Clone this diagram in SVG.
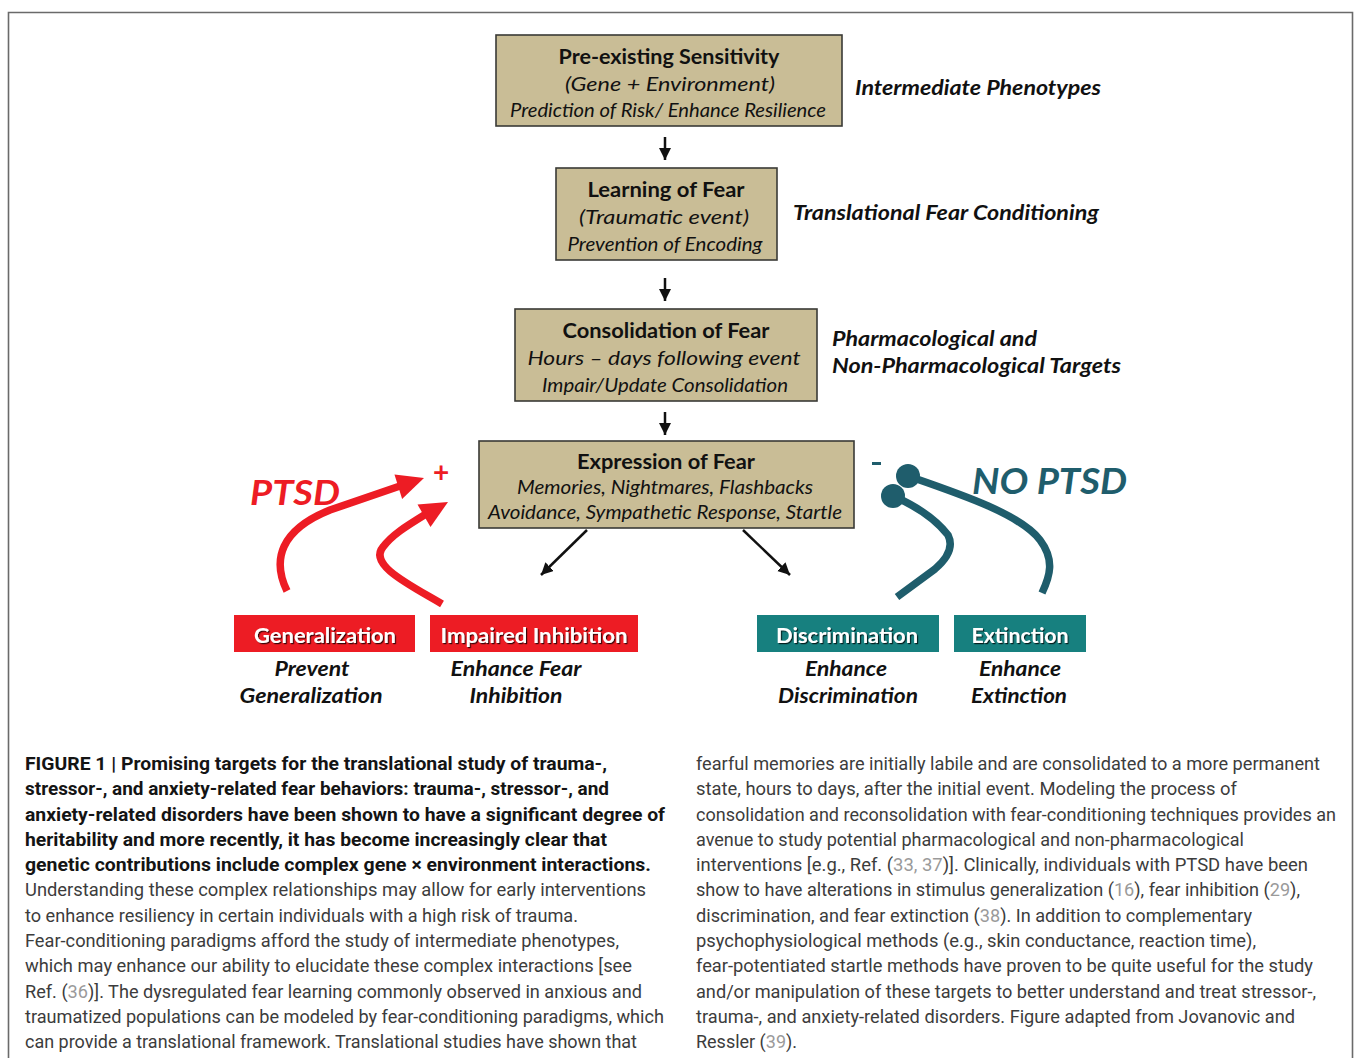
<svg xmlns="http://www.w3.org/2000/svg" width="1354" height="1058" viewBox="0 0 1354 1058">
<style>
.box{fill:#c9bd96;stroke:#3a3a36;stroke-width:1.6}
.t{font-family:Lato,"Open Sans","Liberation Sans",sans-serif;fill:#111;text-anchor:middle}
.b{font-weight:700;font-size:21px}
.i{font-style:italic;font-size:19px}
.lab{font-family:Lato,"Open Sans","Liberation Sans",sans-serif;font-weight:700;font-style:italic;font-size:21px;fill:#111}
.tag{font-family:Lato,"Open Sans","Liberation Sans",sans-serif;font-weight:700;font-size:21px;fill:#fff;text-anchor:middle;filter:url(#sh)}
.sub{font-family:Lato,"Open Sans","Liberation Sans",sans-serif;font-weight:700;font-style:italic;font-size:21px;fill:#111;text-anchor:middle}
.red{fill:#ed1c24}
.teal{fill:#17807f}
.blk{stroke:#111;stroke-width:2.5;fill:none}
.rc{stroke:#ed1c24;stroke-width:7.5;fill:none;stroke-linecap:butt}
.tc{stroke:#1f5d6c;stroke-width:7.5;fill:none}
.cap{font-family:"Liberation Sans Narrow",Roboto,"Liberation Sans",sans-serif;font-size:18px;fill:#3c3c3c}
.capb{font-weight:700;fill:#141414}
.ref{fill:#9a9a9a}
</style>
<defs>
<marker id="ah" markerWidth="14" markerHeight="14" refX="12" refY="6" orient="auto" markerUnits="userSpaceOnUse">
<path d="M0,0 L12,6 L0,12 z" fill="#111"/>
</marker>
<filter id="sh" x="-10%" y="-20%" width="130%" height="150%">
<feDropShadow dx="1.2" dy="1.2" stdDeviation="0.6" flood-color="#000" flood-opacity="0.75"/>
</filter>
</defs>
<rect x="0" y="0" width="1354" height="1058" fill="#fff"/>
<path d="M8.5,1058 L8.5,12.5 L1352.5,12.5 L1352.5,1058" fill="none" stroke="#6a6a6a" stroke-width="1.6"/>

<g id="connectors">
<line class="blk" x1="665" y1="137" x2="665" y2="160" marker-end="url(#ah)"/>
<line class="blk" x1="665" y1="278" x2="665" y2="301" marker-end="url(#ah)"/>
<line class="blk" x1="665" y1="412" x2="665" y2="435" marker-end="url(#ah)"/>
<line class="blk" x1="587" y1="530" x2="541" y2="575" marker-end="url(#ah)"/>
<line class="blk" x1="743" y1="530" x2="790" y2="575" marker-end="url(#ah)"/>
<path class="rc" d="M287,591 C272,560 280,530 330,510 L400,486"/>
<polygon class="red" points="424,478 402.1,499 394.5,474.5"/>
<path class="rc" d="M442,604 C410,585 368,565 383,547 C392,535 405,527 426,514"/>
<polygon class="red" points="448,502 430.5,527 417.5,504.5"/>
<path class="tc" d="M893,496 Q930,512 948,535 Q956,551 935,569 L897,597"/>
<circle cx="893" cy="496" r="12" fill="#1f5d6c"/>
<path class="tc" d="M908,476 C960,494 1020,514 1040,540 C1055,560 1050,576 1042,593"/>
<circle cx="908" cy="476" r="12" fill="#1f5d6c"/>
</g>

<g id="node-preexisting">
<rect class="box" x="496" y="35" width="346" height="91"/>
<text class="t b" x="669" y="64" textLength="221" lengthAdjust="spacingAndGlyphs">Pre-existing Sensitivity</text>
<text class="t i" x="670" y="91" font-size="21" textLength="210" lengthAdjust="spacingAndGlyphs">(Gene + Environment)</text>
<text class="t i" x="668" y="117" font-size="18" textLength="316" lengthAdjust="spacingAndGlyphs">Prediction of Risk/ Enhance Resilience</text>
</g>
<g id="label-intermediate">
<text class="lab" x="855" y="95" textLength="246" lengthAdjust="spacingAndGlyphs">Intermediate Phenotypes</text>
</g>

<g id="node-learning">
<rect class="box" x="556" y="168" width="221" height="92"/>
<text class="t b" x="666" y="197" textLength="157" lengthAdjust="spacingAndGlyphs">Learning of Fear</text>
<text class="t i" x="664" y="224" font-size="21" textLength="170" lengthAdjust="spacingAndGlyphs">(Traumatic event)</text>
<text class="t i" x="665" y="251" font-size="18" textLength="195" lengthAdjust="spacingAndGlyphs">Prevention of Encoding</text>
</g>
<g id="label-translational">
<text class="lab" x="793" y="220" textLength="306" lengthAdjust="spacingAndGlyphs">Translational Fear Conditioning</text>
</g>

<g id="node-consolidation">
<rect class="box" x="515" y="309" width="302" height="92"/>
<text class="t b" x="666" y="338" textLength="207" lengthAdjust="spacingAndGlyphs">Consolidation of Fear</text>
<text class="t i" x="664" y="365" font-size="21" textLength="273" lengthAdjust="spacingAndGlyphs">Hours – days following event</text>
<text class="t i" x="665" y="392" font-size="18" textLength="246" lengthAdjust="spacingAndGlyphs">Impair/Update Consolidation</text>
</g>
<g id="label-pharma">
<text class="lab" x="832" y="346" textLength="205" lengthAdjust="spacingAndGlyphs">Pharmacological and</text>
<text class="lab" x="832" y="373" textLength="289" lengthAdjust="spacingAndGlyphs">Non-Pharmacological Targets</text>
</g>

<g id="node-expression">
<rect class="box" x="479" y="441" width="375" height="87"/>
<text class="t b" x="666" y="469" textLength="178" lengthAdjust="spacingAndGlyphs">Expression of Fear</text>
<text class="t i" x="665" y="494" textLength="296" lengthAdjust="spacingAndGlyphs">Memories, Nightmares, Flashbacks</text>
<text class="t i" x="665" y="519" textLength="354" lengthAdjust="spacingAndGlyphs">Avoidance, Sympathetic Response, Startle</text>
</g>

<g id="label-ptsd">
<text x="250" y="505" font-family="Lato,'Open Sans','Liberation Sans',sans-serif" font-weight="700" font-style="italic" font-size="34" fill="#ed1c24" textLength="90" lengthAdjust="spacingAndGlyphs">PTSD</text>
<text x="441" y="482" font-family="Lato,'Open Sans','Liberation Sans',sans-serif" font-weight="700" font-size="28" fill="#ed1c24" text-anchor="middle">+</text>
</g>
<g id="label-noptsd">
<text x="972" y="494" font-family="Lato,'Open Sans','Liberation Sans',sans-serif" font-weight="700" font-style="italic" font-size="36" fill="#1f5d6c" textLength="155" lengthAdjust="spacingAndGlyphs">NO PTSD</text>
<rect x="872" y="462" width="9" height="3" fill="#1f5d6c"/>
</g>

<g id="node-generalization">
<rect class="red" x="234" y="615" width="181" height="37"/>
<text class="tag" x="325" y="643" textLength="142" lengthAdjust="spacingAndGlyphs">Generalization</text>
<text class="sub" x="312" y="676" textLength="75" lengthAdjust="spacingAndGlyphs">Prevent</text>
<text class="sub" x="311" y="703" textLength="143" lengthAdjust="spacingAndGlyphs">Generalization</text>
</g>
<g id="node-impaired">
<rect class="red" x="430" y="615" width="208" height="37"/>
<text class="tag" x="534" y="643" textLength="187" lengthAdjust="spacingAndGlyphs">Impaired Inhibition</text>
<text class="sub" x="516" y="676" textLength="131" lengthAdjust="spacingAndGlyphs">Enhance Fear</text>
<text class="sub" x="516" y="703" textLength="93" lengthAdjust="spacingAndGlyphs">Inhibition</text>
</g>
<g id="node-discrimination">
<rect class="teal" x="757" y="615" width="182" height="37"/>
<text class="tag" x="847" y="643" textLength="142" lengthAdjust="spacingAndGlyphs">Discrimination</text>
<text class="sub" x="846" y="676" textLength="82" lengthAdjust="spacingAndGlyphs">Enhance</text>
<text class="sub" x="848" y="703" textLength="140" lengthAdjust="spacingAndGlyphs">Discrimination</text>
</g>
<g id="node-extinction">
<rect class="teal" x="954" y="615" width="132" height="37"/>
<text class="tag" x="1020" y="643" textLength="97" lengthAdjust="spacingAndGlyphs">Extinction</text>
<text class="sub" x="1020" y="676" textLength="82" lengthAdjust="spacingAndGlyphs">Enhance</text>
<text class="sub" x="1019" y="703" textLength="96" lengthAdjust="spacingAndGlyphs">Extinction</text>
</g>

<g id="caption">
<text class="cap capb" x="25" y="770" textLength="582" lengthAdjust="spacingAndGlyphs">FIGURE 1 | Promising targets for the translational study of trauma-,</text>
<text class="cap capb" x="25" y="795.3" textLength="584" lengthAdjust="spacingAndGlyphs">stressor-, and anxiety-related fear behaviors: trauma-, stressor-, and</text>
<text class="cap capb" x="25" y="820.5" textLength="640" lengthAdjust="spacingAndGlyphs">anxiety-related disorders have been shown to have a significant degree of</text>
<text class="cap capb" x="25" y="845.8" textLength="582" lengthAdjust="spacingAndGlyphs">heritability and more recently, it has become increasingly clear that</text>
<text class="cap capb" x="25" y="871.1" textLength="626" lengthAdjust="spacingAndGlyphs">genetic contributions include complex gene × environment interactions.</text>
<text class="cap" x="25" y="896.4" textLength="621" lengthAdjust="spacingAndGlyphs">Understanding these complex relationships may allow for early interventions</text>
<text class="cap" x="25" y="921.6" textLength="553" lengthAdjust="spacingAndGlyphs">to enhance resiliency in certain individuals with a high risk of trauma.</text>
<text class="cap" x="25" y="946.9" textLength="594" lengthAdjust="spacingAndGlyphs">Fear-conditioning paradigms afford the study of intermediate phenotypes,</text>
<text class="cap" x="25" y="972.2" textLength="607" lengthAdjust="spacingAndGlyphs">which may enhance our ability to elucidate these complex interactions [see</text>
<text class="cap" x="25" y="997.5" textLength="617" lengthAdjust="spacingAndGlyphs">Ref. (<tspan class="ref">36</tspan>)]. The dysregulated fear learning commonly observed in anxious and</text>
<text class="cap" x="25" y="1022.7" textLength="639" lengthAdjust="spacingAndGlyphs">traumatized populations can be modeled by fear-conditioning paradigms, which</text>
<text class="cap" x="25" y="1048" textLength="612" lengthAdjust="spacingAndGlyphs">can provide a translational framework. Translational studies have shown that</text>

<text class="cap" x="696" y="770" textLength="624" lengthAdjust="spacingAndGlyphs">fearful memories are initially labile and are consolidated to a more permanent</text>
<text class="cap" x="696" y="795.3" textLength="541" lengthAdjust="spacingAndGlyphs">state, hours to days, after the initial event. Modeling the process of</text>
<text class="cap" x="696" y="820.5" textLength="640" lengthAdjust="spacingAndGlyphs">consolidation and reconsolidation with fear-conditioning techniques provides an</text>
<text class="cap" x="696" y="845.8" textLength="548" lengthAdjust="spacingAndGlyphs">avenue to study potential pharmacological and non-pharmacological</text>
<text class="cap" x="696" y="871.1" textLength="612" lengthAdjust="spacingAndGlyphs">interventions [e.g., Ref. (<tspan class="ref">33, 37</tspan>)]. Clinically, individuals with PTSD have been</text>
<text class="cap" x="696" y="896.4" textLength="604" lengthAdjust="spacingAndGlyphs">show to have alterations in stimulus generalization (<tspan class="ref">16</tspan>), fear inhibition (<tspan class="ref">29</tspan>),</text>
<text class="cap" x="696" y="921.6" textLength="556" lengthAdjust="spacingAndGlyphs">discrimination, and fear extinction (<tspan class="ref">38</tspan>). In addition to complementary</text>
<text class="cap" x="696" y="946.9" textLength="560" lengthAdjust="spacingAndGlyphs">psychophysiological methods (e.g., skin conductance, reaction time),</text>
<text class="cap" x="696" y="972.2" textLength="617" lengthAdjust="spacingAndGlyphs">fear-potentiated startle methods have proven to be quite useful for the study</text>
<text class="cap" x="696" y="997.5" textLength="620" lengthAdjust="spacingAndGlyphs">and/or manipulation of these targets to better understand and treat stressor-,</text>
<text class="cap" x="696" y="1022.7" textLength="599" lengthAdjust="spacingAndGlyphs">trauma-, and anxiety-related disorders. Figure adapted from Jovanovic and</text>
<text class="cap" x="696" y="1048" textLength="101" lengthAdjust="spacingAndGlyphs">Ressler (<tspan class="ref">39</tspan>).</text>
</g>
</svg>
